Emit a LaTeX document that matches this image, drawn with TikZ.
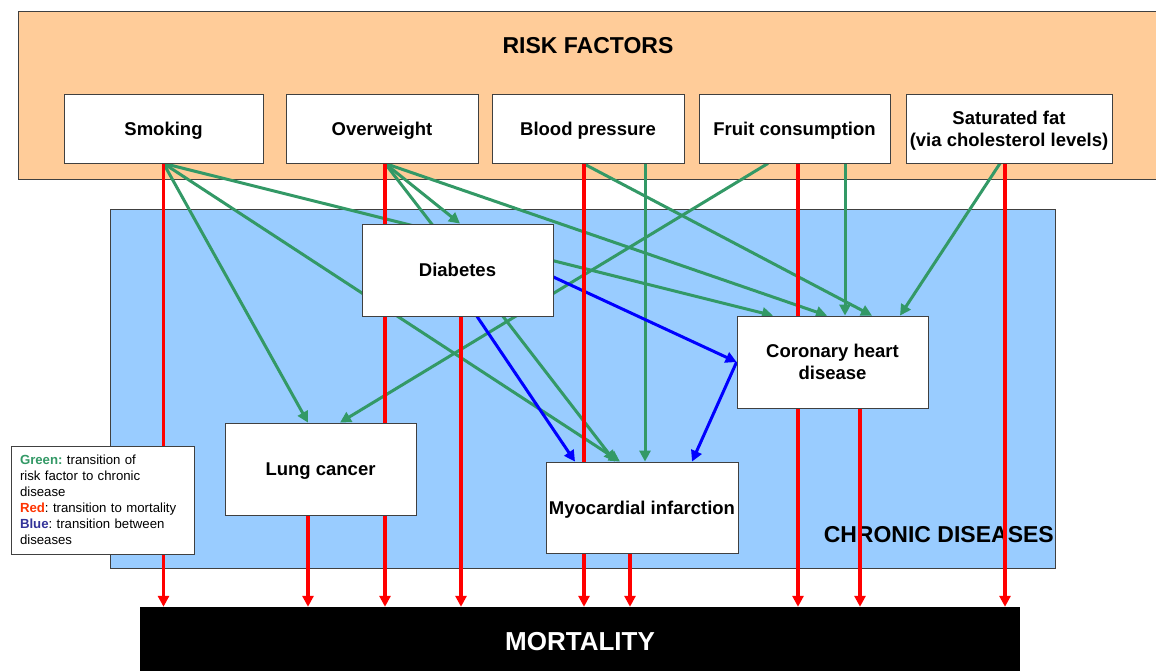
\documentclass[tikz,border=0pt]{standalone}
\usepackage{fontspec}
\setmainfont{Liberation Sans}
\usetikzlibrary{arrows.meta,calc}
\pgfdeclarelayer{bg}
\pgfdeclarelayer{lines}
\pgfsetlayers{bg,lines,main}
\definecolor{rfill}{HTML}{FFCC99}
\definecolor{cfill}{HTML}{99CCFF}
\definecolor{grn}{HTML}{339966}
\definecolor{rd}{HTML}{FF0000}
\definecolor{bl}{HTML}{0000FF}
\definecolor{edge}{HTML}{404040}
\definecolor{lgred}{HTML}{FF3300}
\definecolor{lgblue}{HTML}{333399}
\begin{document}
\begin{tikzpicture}[x=1pt,y=-1pt,
  lbl/.style={font=\bfseries\fontsize{18.5}{22}\selectfont,align=center},
  rbox/.style={lbl,draw=edge,line width=0.8pt,fill=white,minimum height=69pt,inner sep=0pt,text depth=0pt},
  dbox/.style={lbl,draw=edge,line width=0.8pt,fill=white,minimum width=191pt,minimum height=92pt,inner sep=0pt,text depth=0pt},
  tipstyle/.style={-{Triangle[length=11pt,width=11pt]}},
  garr/.style={draw=grn,line width=3pt,tipstyle},
  rarr/.style={draw=rd,line width=3.3pt,tipstyle},
  barr/.style={draw=bl,line width=3pt,tipstyle}]
\useasboundingbox (0,0) rectangle (1156,670);

\begin{pgfonlayer}{bg}
  \fill[rfill,draw=edge,line width=0.8pt] (18,11) rectangle (1175,179);
  \fill[cfill,draw=edge,line width=0.8pt] (110,209) rectangle (1055,568);
  \node[lbl,font=\bfseries\fontsize{23}{26}\selectfont,anchor=east,inner sep=0pt] (chron) at (1054,535) {CHRONIC DISEASES};
\end{pgfonlayer}

\node[lbl,font=\bfseries\fontsize{23}{26}\selectfont] (riskt) at (588,45.5) {RISK FACTORS};

% risk factors
\node[rbox,minimum width=199pt] (smk) at (163.5,128.5) {Smoking};
\node[rbox,minimum width=192pt] (ovw) at (382,128.5) {Overweight};
\node[rbox,minimum width=192pt] (bp) at (588,128.5) {Blood pressure};
\node[rbox,minimum width=191pt] (fruit) at (794.5,128.5) {Fruit consumption};
\node[rbox,minimum width=206pt] (fat) at (1009,128.5) {Saturated fat\\(via cholesterol levels)};

% chronic diseases
\node[dbox] (dia) at (457.5,270) {Diabetes};
\node[dbox] (chd) at (832.5,362) {Coronary heart\\disease};
\node[dbox] (lung) at (320.5,469) {Lung cancer};
\node[dbox,minimum width=192pt,minimum height=91pt] (mi) at (642,507.5) {Myocardial infarction};

% mortality
\node[fill=black,minimum width=880pt,minimum height=70pt,inner sep=0pt,text=white,
      font=\bfseries\fontsize{26}{30}\selectfont] (mort) at (580,642) {MORTALITY};

% legend
\node[draw=edge,line width=0.8pt,fill=white,minimum width=183pt,minimum height=108pt,
      text width=165pt,inner xsep=9pt,inner ysep=0pt,align=left,
      font=\fontsize{13.2}{16}\selectfont\frenchspacing] (leg) at (102.5,500)
 {{\color{grn}\bfseries Green:} transition of\\risk factor to chronic\\disease\\
  {\color{lgred}\bfseries Red}: transition to mortality\\
  {\color{lgblue}\bfseries Blue}: transition between\\diseases};

\begin{pgfonlayer}{lines}
  % green: risk factor -> chronic disease
  \draw[garr] (smk.south) -- ([xshift=-12.5pt]lung.north);
  \draw[garr] (smk.south) -- ([xshift=-59.5pt]chd.north);
  \draw[garr] (smk.south) -- ([xshift=-22pt]mi.north);
  \draw[garr] ([xshift=3pt]ovw.south) -- ([xshift=2.5pt]dia.north);
  \draw[garr] ([xshift=3pt]ovw.south) -- ([xshift=-27pt]mi.north);
  \draw[garr] ([xshift=3pt]ovw.south) -- ([xshift=-5.5pt]chd.north);
  \draw[garr] ([xshift=-5pt]bp.south) -- ([xshift=39.5pt]chd.north);
  \draw[garr] ([xshift=57pt]bp.south) -- ([xshift=3pt]mi.north);
  \draw[garr] ([xshift=-26.5pt]fruit.south) -- ([xshift=19.5pt]lung.north);
  \draw[garr] ([xshift=50.5pt]fruit.south) -- ([xshift=12.5pt]chd.north);
  \draw[garr] ([xshift=-9pt]fat.south) -- ([xshift=67.5pt]chd.north);
  % blue: between diseases
  \draw[barr] ([xshift=19.5pt]dia.south) -- ([xshift=-67pt]mi.north);
  \draw[barr] ([yshift=-7pt]dia.east) -- (chd.west);
  \draw[barr] (chd.west) -- ([xshift=50pt]mi.north);
  % red: to mortality
  \draw[rarr] (smk.south) coordinate (r1) -- (r1 |- mort.north);
  \draw[rarr] ([xshift=-12.5pt]lung.south) coordinate (r2) -- (r2 |- mort.north);
  \draw[rarr] ([xshift=3pt]ovw.south) coordinate (r3) -- (r3 |- mort.north);
  \draw[rarr] ([xshift=3.5pt]dia.south) coordinate (r4) -- (r4 |- mort.north);
  \draw[rarr] ([xshift=-4pt]bp.south) coordinate (r5) -- (r5 |- mort.north);
  \draw[rarr] ([xshift=-12pt]mi.south) coordinate (r6) -- (r6 |- mort.north);
  \draw[rarr] ([xshift=3.5pt]fruit.south) coordinate (r7) -- (r7 |- mort.north);
  \draw[rarr] ([xshift=27.5pt]chd.south) coordinate (r8) -- (r8 |- mort.north);
  \draw[rarr] ([xshift=-4pt]fat.south) coordinate (r9) -- (r9 |- mort.north);
\end{pgfonlayer}
\end{tikzpicture}
\end{document}
